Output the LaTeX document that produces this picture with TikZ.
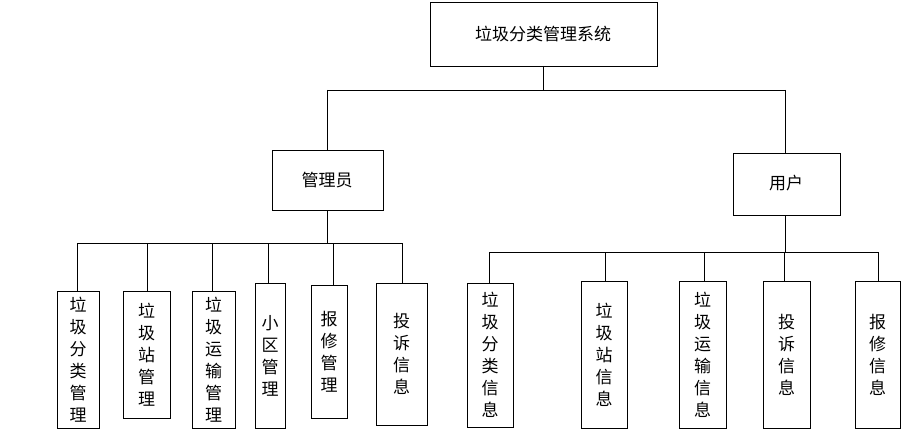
\documentclass[tikz,border=0pt]{standalone}
\usepackage{fontspec}
\setmainfont{Noto Sans CJK SC}
\begin{document}
\begin{tikzpicture}[x=1pt,y=-1pt,
  box/.style={draw,line width=0.8pt,fill=white},
  txt/.style={font=\fontsize{17}{22}\selectfont,align=center,inner sep=0pt},
  ln/.style={line width=0.8pt}]
\useasboundingbox (0,0) rectangle (905,433);
\def\bx#1#2#3#4#5#6{\draw[box] (#1,#2) rectangle (#3,#4); \node[txt] (#5) at ({(#1+#3)/2},{(#2+#4)/2}) {#6};}
\draw[box] (430,2) rectangle (657,66);
\node[txt] (root) at (543,34) {垃圾分类管理系统};
\draw[box] (272,150) rectangle (383,210);
\node[txt] (adm) at (327,180) {管理员};
\draw[box] (733,153) rectangle (840,215);
\node[txt] (usr) at (786,183) {用户};
\draw[ln] (543,66) -- (543,90);
\draw[ln] (327,90) -- (785,90);
\draw[ln] (327,90) -- (327,150);
\draw[ln] (785,90) -- (785,153);
\draw[ln] (327,210) -- (327,243);
\draw[ln] (77,243) -- (402,243);
\foreach \x/\t in {77/291,147/291,212/291,268/283,333/285,402/283} \draw[ln] (\x,243) -- (\x,\t);
\draw[ln] (785,215) -- (785,252);
\draw[ln] (489,252) -- (878,252);
\foreach \x/\t in {489/283,605/281,704/281,784/281,878/281} \draw[ln] (\x,252) -- (\x,\t);
\bx{57}{291}{99}{428}{a1}{垃\\圾\\分\\类\\管\\理}
\bx{123}{291}{170}{418}{a2}{垃\\圾\\站\\管\\理}
\bx{192}{291}{235}{428}{a3}{垃\\圾\\运\\输\\管\\理}
\bx{255}{283}{285}{428}{a4}{小\\区\\管\\理}
\bx{311}{285}{347}{418}{a5}{报\\修\\管\\理}
\bx{376}{283}{427}{425}{a6}{投\\诉\\信\\息}
\bx{467}{283}{513}{427}{b1}{垃\\圾\\分\\类\\信\\息}
\bx{581}{281}{627}{428}{b2}{垃\\圾\\站\\信\\息}
\bx{679}{281}{726}{428}{b3}{垃\\圾\\运\\输\\信\\息}
\bx{763}{281}{810}{428}{b4}{投\\诉\\信\\息}
\bx{855}{281}{900}{428}{b5}{报\\修\\信\\息}
\end{tikzpicture}
\end{document}
